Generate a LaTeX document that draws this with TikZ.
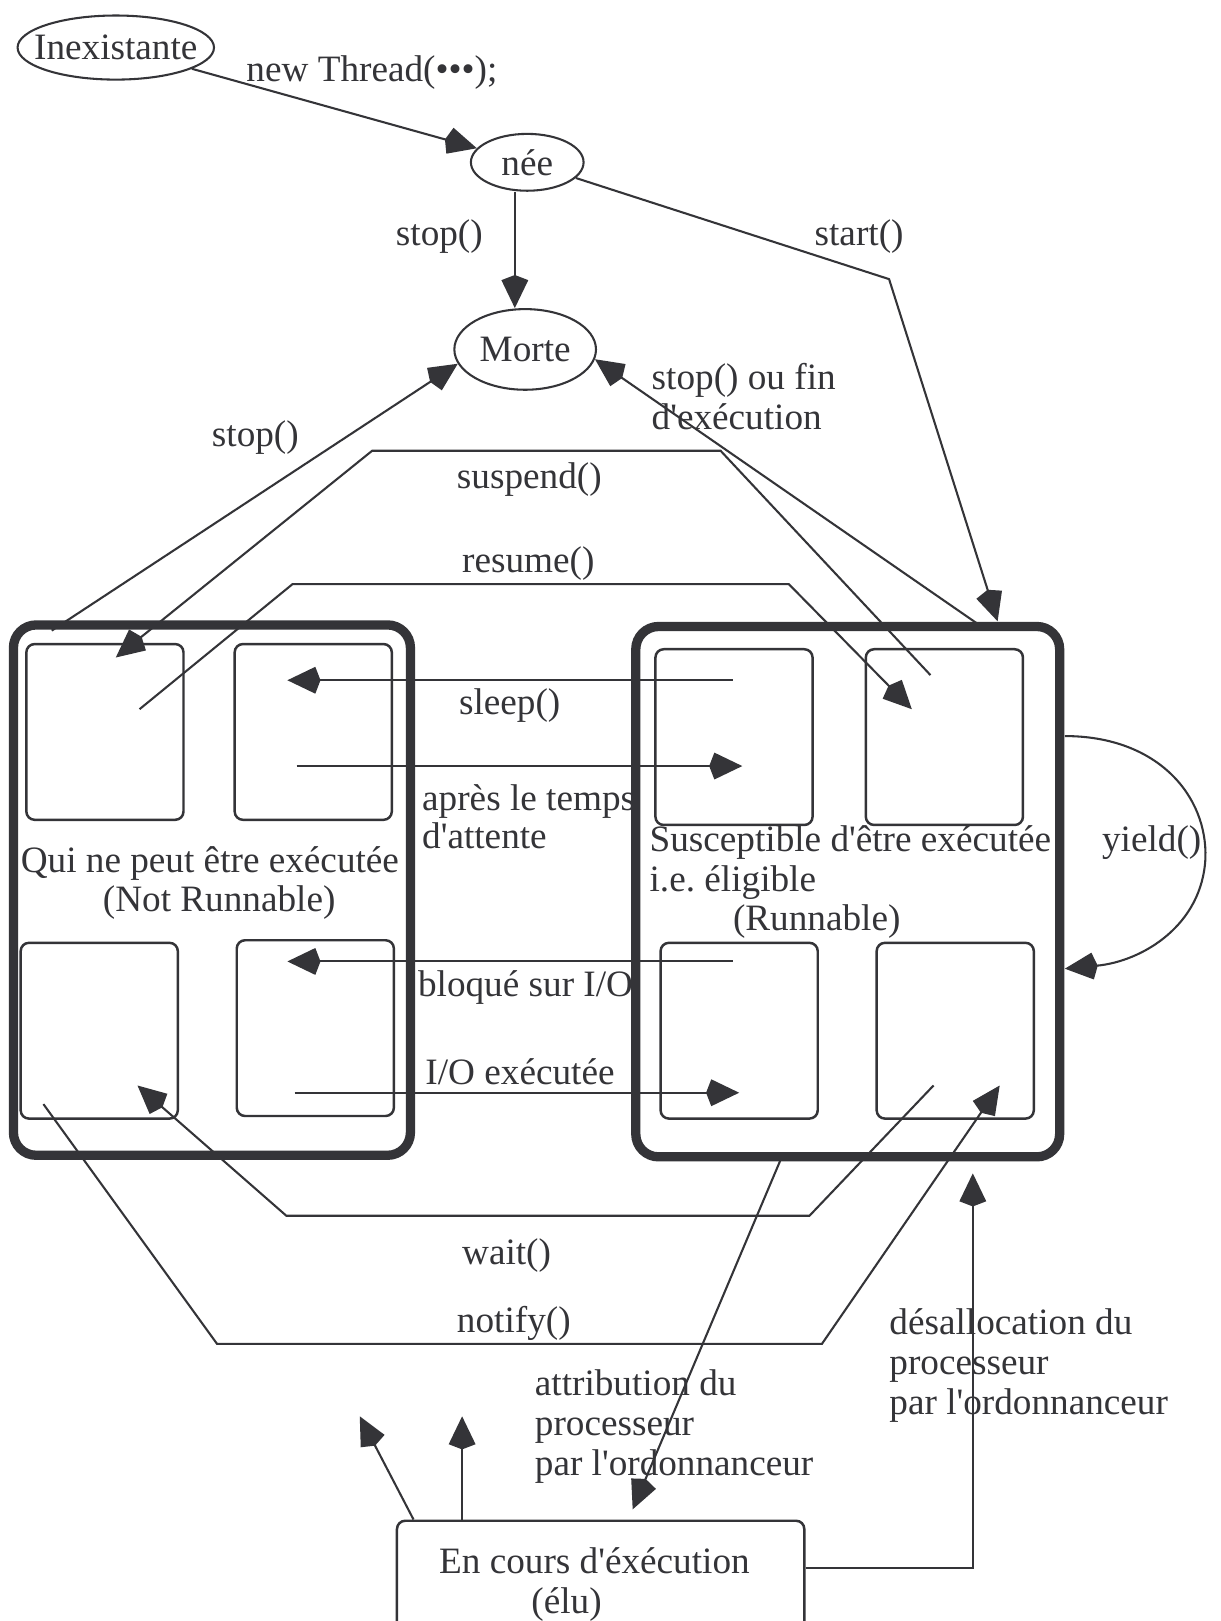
\documentclass[tikz,border=0pt]{standalone}
\usepackage{fontspec}
\setmainfont{Liberation Serif}[Ligatures=TeXOff]
\usetikzlibrary{arrows.meta,shapes.geometric}
\definecolor{ink}{RGB}{52,52,56}
\begin{document}
\frenchspacing
\begin{tikzpicture}[x=0.5pt,y=-0.5pt,
  every node/.style={font=\fontsize{18}{19}\selectfont\frenchspacing, text=ink, inner sep=0pt},
  line/.style={draw=ink, line width=1pt},
  arr/.style={line, -{Kite[length=16pt,width=13pt,inset=2.5pt]}},
  stateell/.style={ellipse, draw=ink, line width=1pt},
  bigbox/.style={rectangle, draw=ink, line width=4.5pt, rounded corners=11pt, minimum width=#1, minimum height=256.5pt},
  smallbox/.style={rectangle, draw=ink, line width=1.2pt, rounded corners=4pt, minimum width=76pt, minimum height=85pt},
  lbl/.style={anchor=center, text height=13pt, text depth=4pt},
  lbll/.style={anchor=west, text height=13pt, text depth=4pt}
]
\fill[white] (0,0) rectangle (1181,1568);
\useasboundingbox (0,0) rectangle (1181,1568);

% states
\node[stateell, minimum width=95pt, minimum height=31pt, label={center:Inexistante}] (inex) at (112,46) {};
\node[stateell, minimum width=54.5pt, minimum height=27.5pt, label={center:née}] (nee) at (510,157) {};
\node[stateell, minimum width=68.5pt, minimum height=39pt, label={center:Morte}] (morte) at (508,338) {};

% big boxes
\node[bigbox=192pt] (lbig) at (205,861) {};
\node[bigbox=205pt] (rbig) at (820,862.5) {};

% small boxes
\node[smallbox] (lTL) at (101.5,708) {};
\node[smallbox] (lTR) at (303,708) {};
\node[smallbox] (lBL) at (96,997) {};
\node[smallbox] (lBR) at (305,994.5) {};
\node[smallbox] (rTL) at (710,713) {};
\node[smallbox] (rTR) at (913.5,713) {};
\node[smallbox] (rBL) at (715,997) {};
\node[smallbox] (rBR) at (924,997) {};

% running box
\node[rectangle, draw=ink, line width=1.2pt, rounded corners=4pt, minimum width=197pt, minimum height=64.5pt] (enc) at (581,1535.5) {};
\node[lbl] (enct1) at (575,1513) {En cours d'éxécution};
\node[lbl] (enct2) at (548,1552) {(élu)};

% box texts
\node[lbl] (qui1) at (203,835) {Qui ne peut être exécutée};
\node[lbl] (qui2) at (212,873) {(Not Runnable)};
\node[lbll] (sus1) at (628,815) {Susceptible d'être exécutée};
\node[lbll] (sus2) at (628,853) {i.e. éligible};
\node[lbl] (sus3) at (790,891) {(Runnable)};

% coordinates
\coordinate (sbend) at (860,270);
\coordinate (sEnd) at (965,601);
\coordinate (rstop) at (945,603);
\coordinate (lstop) at (50,610);
\coordinate (susA) at (900,653);
\coordinate (susB) at (697,436);
\coordinate (susC) at (360,436);
\coordinate (susD) at (112,636);
\coordinate (resA) at (135,686);
\coordinate (resB) at (283,565);
\coordinate (resC) at (763,565);
\coordinate (resD) at (882,686);
\coordinate (slA) at (709,658);
\coordinate (slB) at (278,658);
\coordinate (apA) at (287,741);
\coordinate (apB) at (718,741);
\coordinate (blA) at (709,930);
\coordinate (blB) at (278,930);
\coordinate (ioA) at (285,1057);
\coordinate (ioB) at (715,1057);
\coordinate (wA) at (903,1050);
\coordinate (wB) at (783,1176);
\coordinate (wC) at (277,1176);
\coordinate (wD) at (133,1050);
\coordinate (nA) at (42,1068);
\coordinate (nB) at (210,1300);
\coordinate (nC) at (795,1300);
\coordinate (nD) at (967,1050);
\coordinate (atA) at (755,1122);
\coordinate (atB) at (612,1460);
\coordinate (deB) at (941,1517);
\coordinate (deC) at (941,1135);
\coordinate (upA) at (348,1370);
\coordinate (upB) at (447,1370);
\coordinate (yA) at (1030,712);
\coordinate (yB) at (1030,937);

% connectors
\draw[arr] (inex) -- (nee);
\draw[arr] (nee.south -| 498,0) -- (morte.north -| 498,0);
\draw[arr] (nee) -- (sbend) -- (sEnd);
\draw[arr] (rstop) -- (morte.-8);
\draw[arr] (lstop) -- (morte.192);
\draw[arr] (susA) -- (susB) -- (susC) -- (susD);
\draw[arr] (resA) -- (resB) -- (resC) -- (resD);
\draw[arr] (slA) -- (slB);
\draw[arr] (apA) -- (apB);
\draw[arr] (blA) -- (blB);
\draw[arr] (ioA) -- (ioB);
\draw[arr] (wA) -- (wB) -- (wC) -- (wD);
\draw[arr] (nA) -- (nB) -- (nC) -- (nD);
\draw[arr] (atA) -- (atB);
\draw[arr] (enc.east |- deB) -- (deB) -- (deC);
\draw[arr] (enc.north -| 400,0) -- (upA);
\draw[arr] (enc.north -| 447,0) -- (upB);
\draw[arr] (yA) .. controls (1120,712) and (1168,770) .. (1166,830) .. controls (1163,895) and (1105,930) .. (yB);

% labels
\node[lbll] (lnew) at (238,70) {new Thread(•••);};
\node[lbl] (lstop1) at (425,228) {stop()};
\node[lbl] (lstart) at (831,228) {start()};
\node[lbll] (lfin1) at (630,368) {stop() ou fin};
\node[lbll] (lfin2) at (630,406) {d'exécution};
\node[lbl] (lstop2) at (247,423) {stop()};
\node[lbl] (lsus) at (512,464) {suspend()};
\node[lbl] (lres) at (511,545) {resume()};
\node[lbl] (lsleep) at (493,682) {sleep()};
\node[lbll] (lap1) at (408,775) {après le temps};
\node[lbll] (lap2) at (408,812) {d'attente};
\node[lbl] (lyield) at (1114,815) {yield()};
\node[lbll] (lblo) at (404,955) {bloqué sur I/O};
\node[lbl] (lio) at (503,1040) {I/O exécutée};
\node[lbl] (lwait) at (490,1214) {wait()};
\node[lbl] (lnot) at (497,1280) {notify()};
\node[lbll] (lde1) at (860,1282) {désallocation du};
\node[lbll] (lde2) at (860,1321) {processeur};
\node[lbll] (lde3) at (860,1359) {par l'ordonnanceur};
\node[lbll] (lat1) at (517,1341) {attribution du};
\node[lbll] (lat2) at (517,1380) {processeur};
\node[lbll] (lat3) at (517,1418) {par l'ordonnanceur};
\end{tikzpicture}
\end{document}
